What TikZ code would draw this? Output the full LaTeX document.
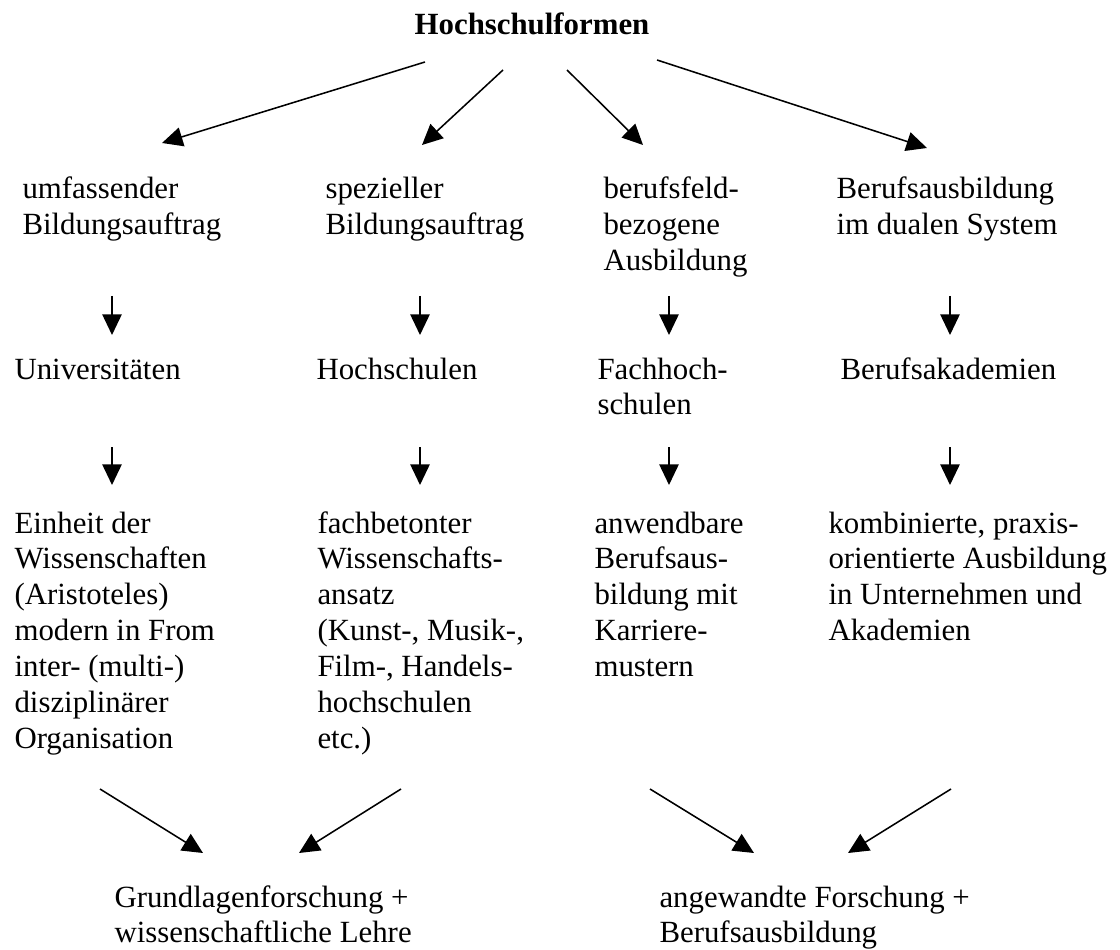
\documentclass[tikz,border=0pt]{standalone}
\usepackage{fontspec}
\setmainfont{Liberation Serif}
\usetikzlibrary{arrows.meta}

\newcommand{\zeilen}[1]{\begin{tabular}[t]{@{}l@{}}#1\end{tabular}}

\begin{document}
\begin{tikzpicture}[x=0.3891pt,y=-0.3891pt,
	txt/.style={anchor=base west,inner sep=0pt,font=\fontsize{12}{14}\selectfont},
	pfeil/.style={-{Triangle[length=8pt,width=7.5pt]},line width=0.6pt}]
		\useasboundingbox (0,0) rectangle (1120,950);
		% Titel
		\node[anchor=base,inner sep=0pt,font=\fontsize{12}{14}\selectfont\bfseries] (titel) at (532,35) {Hochschulformen};
		% Bildungsauftrag
		\node[txt] (auftrag1) at (22,199) {\zeilen{umfassender\\Bildungsauftrag}};
		\node[txt] (auftrag2) at (325,199) {\zeilen{spezieller\\Bildungsauftrag}};
		\node[txt] (auftrag3) at (603,199) {\zeilen{berufsfeld-\\bezogene\\Ausbildung}};
		\node[txt] (auftrag4) at (836,199) {\zeilen{Berufsausbildung\\im dualen System}};
		% Hochschultyp
		\node[txt] (typ1) at (14,379) {\zeilen{Universitäten}};
		\node[txt] (typ2) at (316,379) {\zeilen{Hochschulen}};
		\node[txt] (typ3) at (597,379) {\zeilen{Fachhoch-\\schulen}};
		\node[txt] (typ4) at (840,379) {\zeilen{Berufsakademien}};
		% Profil
		\node[txt] (profil1) at (14,533) {\zeilen{Einheit der\\Wissenschaften\\(Aristoteles)\\modern in From\\inter- (multi-)\\disziplinärer\\Organisation}};
		\node[txt] (profil2) at (317,533) {\zeilen{fachbetonter\\Wissenschafts-\\ansatz\\(Kunst-, Musik-,\\Film-, Handels-\\hochschulen\\etc.)}};
		\node[txt] (profil3) at (594,533) {\zeilen{anwendbare\\Berufsaus-\\bildung mit\\Karriere-\\mustern}};
		\node[txt] (profil4) at (828,533) {\zeilen{kombinierte, praxis-\\orientierte Ausbildung\\in Unternehmen und\\Akademien}};
		% Ziel
		\node[txt] (ziel1) at (114,907) {\zeilen{Grundlagenforschung +\\wissenschaftliche Lehre}};
		\node[txt] (ziel2) at (659,907) {\zeilen{angewandte Forschung +\\Berufsausbildung}};
		
		% Pfeile vom Titel
		\coordinate (t1) at (425,62);  \coordinate (s1) at (162,143);
		\coordinate (t2) at (503,70);  \coordinate (s2) at (422,145);
		\coordinate (t3) at (567,70);  \coordinate (s3) at (643,145);
		\coordinate (t4) at (657,60);  \coordinate (s4) at (927,148);
		\draw[pfeil] (t1) to (s1);
		\draw[pfeil] (t2) to (s2);
		\draw[pfeil] (t3) to (s3);
		\draw[pfeil] (t4) to (s4);
		
		% senkrechte Pfeile
		\foreach \x [count=\i] in {112,420,669,950}{
			\coordinate (oa\i) at (\x,296); \coordinate (ua\i) at (\x,335);
			\coordinate (ob\i) at (\x,447); \coordinate (ub\i) at (\x,485);
			\draw[pfeil] (oa\i) to (ua\i);
			\draw[pfeil] (ob\i) to (ub\i);
		}
		
		% Pfeile zum Ziel
		\coordinate (l1) at (100,789);  \coordinate (z1) at (203,853);
		\coordinate (l2) at (401,789);  \coordinate (z2) at (299,853);
		\coordinate (r1) at (650,789);  \coordinate (z3) at (754,853);
		\coordinate (r2) at (951,789);  \coordinate (z4) at (848,853);
		\draw[pfeil] (l1) to (z1);
		\draw[pfeil] (l2) to (z2);
		\draw[pfeil] (r1) to (z3);
		\draw[pfeil] (r2) to (z4);
		
		\end{tikzpicture}
\end{document}
